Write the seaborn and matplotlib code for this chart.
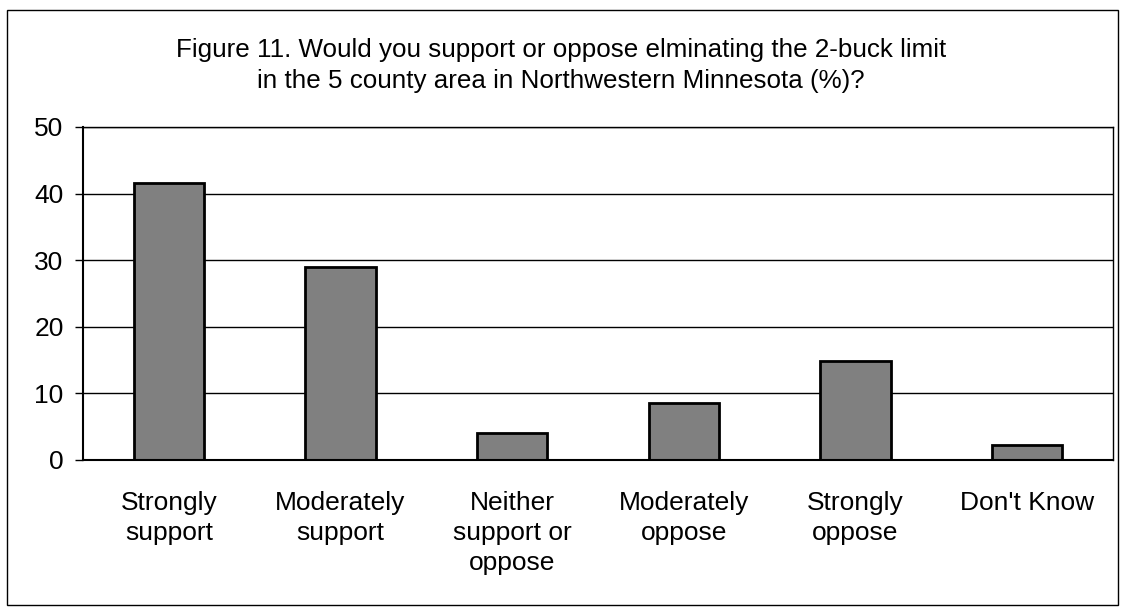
#!/usr/bin/env python3
"""Figure 11: support / oppose eliminating the 2-buck limit"""
import pandas as pd
import matplotlib
matplotlib.use('Agg')
import matplotlib.pyplot as plt
from matplotlib.patches import Rectangle
import seaborn as sns

# data
categories = ['Strongly\nsupport', 'Moderately\nsupport', 'Neither\nsupport or\noppose',
              'Moderately\noppose', 'Strongly\noppose', "Don't Know"]
percent = [41.6, 29.0, 4.0, 8.5, 14.9, 2.2]
y_ticks = [0, 10, 20, 30, 40, 50]
title = ('Figure 11. Would you support or oppose elminating the 2-buck limit\n'
         'in the 5 county area in Northwestern Minnesota (%)?')

sns.set_style('white')
plt.rcParams['font.family'] = ['Liberation Sans', 'DejaVu Sans']
plt.rcParams['text.color'] = 'black'
plt.rcParams['xtick.color'] = 'black'
plt.rcParams['ytick.color'] = 'black'

df = pd.DataFrame({'answer': categories, 'pct': percent})

fig = plt.figure(figsize=(11.23, 6.12), dpi=100)
ax = fig.add_axes([0.0739, 0.2484, 0.9171, 0.5441])

sns.barplot(data=df, x='answer', y='pct', ax=ax, color='#808080',
            saturation=1, width=0.41, edgecolor='black', linewidth=2)

ax.set_ylim(0, 50)
ax.set_xlim(-0.5, len(categories) - 0.5)
ax.set_yticks(y_ticks)
ax.set_yticklabels([str(t) for t in y_ticks], fontsize=19)
ax.yaxis.grid(True, color='black', linewidth=1)
ax.set_axisbelow(True)
ax.set_xlabel('')
ax.set_ylabel('')

# category labels in the middle, tick marks between categories
ax.set_xticks(range(len(categories)))
ax.set_xticklabels(categories, fontsize=19, linespacing=1.34, va='top')
ax.set_xticks([i - 0.5 for i in range(len(categories) + 1)], minor=True)
ax.tick_params(axis='x', which='major', length=0, pad=22)
ax.tick_params(axis='x', which='minor', length=7, width=1, color='#555555', direction='out')
ax.tick_params(axis='y', which='major', length=6, width=1, color='black', direction='out', pad=8, left=True)

for side in ['left', 'bottom', 'top', 'right']:
    ax.spines[side].set_visible(True)
    ax.spines[side].set_color('black')
    ax.spines[side].set_linewidth(1)
ax.spines['left'].set_linewidth(1.5)
ax.spines['bottom'].set_linewidth(1.5)

fig.text(0.4996, 0.938, title, ha='center', va='top', fontsize=18.7, linespacing=1.38)

# border around the whole chart
fig.patches.append(Rectangle((0.0062, 0.011), 0.9893, 0.973, transform=fig.transFigure,
                             fill=False, edgecolor='black', linewidth=1))

plt.savefig('out.png', dpi=100)
